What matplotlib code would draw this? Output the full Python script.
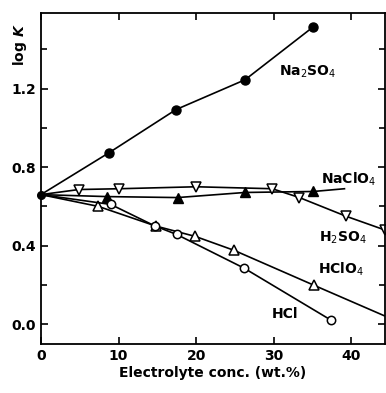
import matplotlib
matplotlib.use("Agg")
import matplotlib.pyplot as plt
from matplotlib.ticker import MultipleLocator

plt.rcParams['font.family'] = ['DejaVu Sans']

# Data
x0, y0 = 0.0, 0.66
na2so4_x = [0, 8.8, 17.4, 26.3, 35.1]
na2so4_y = [0.66, 0.874, 1.093, 1.245, 1.515]
naclo4_x = [0, 8.5, 17.6, 26.3, 35.1, 39.1]
naclo4_y = [0.66, 0.65, 0.645, 0.671, 0.676, 0.69]
naclo4_marked = [False, True, True, True, True, False]
h2so4_x = [0, 4.9, 10.1, 20.0, 29.8, 33.3, 39.3, 44.3]
h2so4_y = [0.66, 0.686, 0.69, 0.70, 0.69, 0.645, 0.55, 0.48]
hclo4_x = [0, 7.4, 14.8, 19.9, 24.9, 35.2, 45.0]
hclo4_y = [0.66, 0.60, 0.50, 0.447, 0.376, 0.198, 0.03]
hclo4_marked = [False, True, True, True, True, True, False]
hcl_x = [0, 9.0, 14.7, 17.5, 26.2, 37.4]
hcl_y = [0.66, 0.61, 0.50, 0.457, 0.285, 0.02]

labels = ["Na$_2$SO$_4$", "NaClO$_4$", "H$_2$SO$_4$", "HClO$_4$", "HCl"]
label_pos = [(34.3, 1.286), (39.7, 0.737), (38.9, 0.44), (38.7, 0.28), (31.4, 0.05)]

fig = plt.figure(figsize=(3.86, 3.93), dpi=100)
ax = fig.add_axes([0.106, 0.125, 0.891, 0.842])

lw = 1.2
ms = 6.5
ax.plot(na2so4_x, na2so4_y, '-', color='k', lw=lw)
ax.plot(na2so4_x[1:], na2so4_y[1:], 'o', color='k', ms=ms)

ax.plot(naclo4_x, naclo4_y, '-', color='k', lw=lw)
ax.plot([a for a, m in zip(naclo4_x, naclo4_marked) if m],
        [b for b, m in zip(naclo4_y, naclo4_marked) if m],
        '^', color='k', ms=ms + 0.5)

ax.plot(h2so4_x, h2so4_y, '-', color='k', lw=lw)
ax.plot(h2so4_x[1:], h2so4_y[1:], 'v', mfc='white', mec='k', mew=1.1, ms=ms + 1, clip_on=False)

ax.plot(hclo4_x, hclo4_y, '-', color='k', lw=lw)
ax.plot([a for a, m in zip(hclo4_x, hclo4_marked) if m],
        [b for b, m in zip(hclo4_y, hclo4_marked) if m],
        '^', mfc='white', mec='k', mew=1.1, ms=ms + 1)

ax.plot(hcl_x, hcl_y, '-', color='k', lw=lw)
ax.plot(hcl_x[1:], hcl_y[1:], 'o', mfc='white', mec='k', mew=1.1, ms=ms - 0.5)

ax.plot([x0], [y0], 'o', color='k', ms=ms - 1, clip_on=False)

for lab, (lx, ly) in zip(labels, label_pos):
    ax.text(lx, ly, lab, ha='center', va='center', fontsize=10, fontweight='bold')

ax.set_xlim(0, 44.3)
ax.set_ylim(-0.1, 1.585)
ax.xaxis.set_major_locator(MultipleLocator(10))
ax.yaxis.set_minor_locator(MultipleLocator(0.2))
ax.set_yticks([0.0, 0.4, 0.8, 1.2])
ax.set_yticklabels(['0.0', '0.4', '0.8', '1.2'])
ax.tick_params(which='both', direction='in', top=True, right=True, labelsize=10)
ax.tick_params(which='major', length=5, width=1.2)
ax.tick_params(which='minor', length=4, width=1.2)
for lab in ax.get_xticklabels() + ax.get_yticklabels():
    lab.set_fontweight('bold')
for s in ax.spines.values():
    s.set_linewidth(1.3)

ax.set_xlabel("Electrolyte conc. (wt.%)", fontsize=10, fontweight='bold', labelpad=2)
ax.text(-0.062, 0.905, "log $\\boldsymbol{K}$", transform=ax.transAxes, rotation=90,
        ha='center', va='center', fontsize=10, fontweight='bold')

fig.savefig("out.png", dpi=100)
